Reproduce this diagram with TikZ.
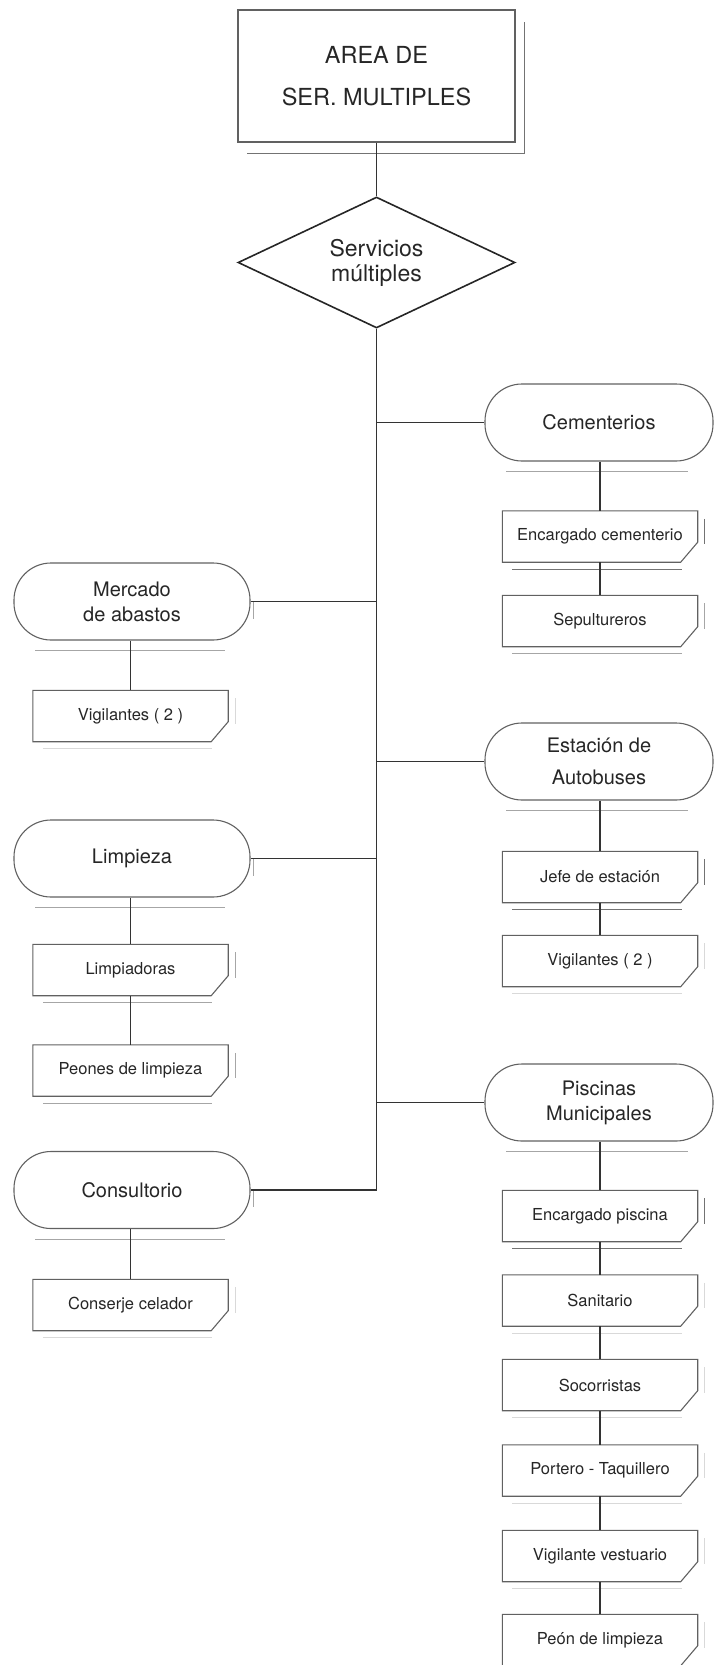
\documentclass[tikz,border=0pt]{standalone}
\usepackage{fontspec}
\setmainfont{TeX Gyre Heros}
\usetikzlibrary{shapes.geometric}
\tikzset{
 outl/.style={draw=black!62, line width=1.1pt},
 conn/.style={draw=black!80, line width=1.3pt},
 shdark/.style={draw=black!55, line width=1.1pt},
 shmid/.style={draw=black!35, line width=1pt},
 shlight/.style={draw=black!15, line width=1pt},
 topbox/.style={rectangle, outl, minimum width=277pt, minimum height=132pt, inner sep=0pt, align=center, font=\fontsize{23.5}{42}\selectfont, text=black!85},
 decision/.style={diamond, draw=black!85, line width=1.6pt, aspect=2.1, minimum width=277pt, minimum height=131pt, inner sep=0pt, align=center, font=\fontsize{23}{25}\selectfont, text=black!85},
 pill/.style={rectangle, outl, rounded corners=37pt, minimum height=77pt, inner sep=0pt, align=center, text=black!85},
 lpill/.style={pill, minimum width=236pt},
 rpill/.style={pill, minimum width=228pt},
 card/.style={rectangle, minimum width=195pt, minimum height=51pt, inner sep=0pt, font=\fontsize{16.5}{19}\selectfont, text=black!85},
}
\newcommand\cardbox[5]{%
 \node[card] (#1) at (#2,#3) {#4};
 \draw[#5] ([xshift=7pt,yshift=-8pt]#1.north east) -- ([xshift=7pt,yshift=18pt]#1.south east);
 \draw[#5] ([xshift=10pt,yshift=-7pt]#1.south west) -- ([xshift=-16pt,yshift=-7pt]#1.south east);
 \draw[outl] (#1.north west) -- (#1.north east) -- ([yshift=20pt]#1.south east) -- ([xshift=-17pt]#1.south east) -- (#1.south west) -- cycle;
}
\newcommand\pillshadow[1]{%
 \draw[shmid] ([xshift=22pt,yshift=-10pt]#1.south west) -- ([xshift=-26pt,yshift=-10pt]#1.south east);
}
\begin{document}
\begin{tikzpicture}[x=1pt,y=-1pt]
\useasboundingbox (0,0) rectangle (713,1665);

% top box
\node[topbox] (top) at (376.5,76) {AREA DE\\SER. MULTIPLES};
\draw[shdark] ([xshift=9pt,yshift=-13pt]top.north east) -- ([xshift=9pt,yshift=-11pt]top.south east) -- ([xshift=10pt,yshift=-11pt]top.south west);

% decision
\node[decision] (dec) at (376.5,262.5) {Servicios\\múltiples};

% pills
\node[rpill, font=\fontsize{20}{26}\selectfont] (cem) at (599,422.5) {Cementerios};
\node[lpill, font=\fontsize{20}{25}\selectfont] (merc) at (132,601.5) {Mercado\\de abastos};
\node[rpill, font=\fontsize{20}{32}\selectfont] (est) at (599,761.5) {Estación de\\Autobuses};
\node[lpill, font=\fontsize{20}{26}\selectfont] (limp) at (132,858.5) {Limpieza};
\node[rpill, font=\fontsize{20}{25}\selectfont] (pisc) at (599,1102.5) {Piscinas\\Municipales};
\node[lpill, font=\fontsize{20}{26}\selectfont] (cons) at (132,1190) {Consultorio};
\foreach \p in {cem,merc,est,limp,pisc,cons}{\pillshadow{\p}}
\foreach \p in {merc,limp,cons}{\draw[shmid] ([xshift=3pt]\p.east) -- ([xshift=3pt,yshift=-17pt]\p.east);}

% cards
\cardbox{encc}{600}{536.5}{Encargado cementerio}{shdark}
\cardbox{sepu}{600}{621}{Sepultureros}{shmid}
\cardbox{vigl}{130.5}{716}{Vigilantes ( 2 )}{shlight}
\cardbox{jefe}{600}{877}{Jefe de estación}{shdark}
\cardbox{vigr}{600}{961}{Vigilantes ( 2 )}{shlight}
\cardbox{limpd}{130.5}{970}{Limpiadoras}{shmid}
\cardbox{peones}{130.5}{1070.5}{Peones de limpieza}{shmid}
\cardbox{encp}{600}{1216}{Encargado piscina}{shdark}
\cardbox{conser}{130.5}{1305}{Conserje celador}{shlight}
\cardbox{sanit}{600}{1300.5}{Sanitario}{shlight}
\cardbox{socor}{600}{1385}{Socorristas}{shlight}
\cardbox{porte}{600}{1470.5}{Portero - Taquillero}{shlight}
\cardbox{vigv}{600}{1556}{Vigilante vestuario}{shlight}
\cardbox{peon}{600}{1640}{Peón de limpieza}{shlight}

% connectors
\draw[conn] (top.south) -- (dec.north);
\draw[conn] (dec.south) -- (dec.south |- cons.east);
\draw[conn] (dec.south |- cem.west) -- (cem.west);
\draw[conn] (dec.south |- est.west) -- (est.west);
\draw[conn] (dec.south |- pisc.west) -- (pisc.west);
\draw[conn] (merc.east) -- (merc.east -| dec.south);
\draw[conn] (limp.east) -- (limp.east -| dec.south);
\draw[conn] (cons.east) -- (cons.east -| dec.south);

\draw[conn] (encc.north |- cem.south) -- (encc.north);
\draw[conn] (encc.south) -- (sepu.north);
\draw[conn] (vigl.north |- merc.south) -- (vigl.north);
\draw[conn] (jefe.north |- est.south) -- (jefe.north);
\draw[conn] (jefe.south) -- (vigr.north);
\draw[conn] (limpd.north |- limp.south) -- (limpd.north);
\draw[conn] (limpd.south) -- (peones.north);
\draw[conn] (conser.north |- cons.south) -- (conser.north);
\draw[conn] (encp.north |- pisc.south) -- (encp.north);
\draw[conn] (encp.south) -- (sanit.north);
\draw[conn] (sanit.south) -- (socor.north);
\draw[conn] (socor.south) -- (porte.north);
\draw[conn] (porte.south) -- (vigv.north);
\draw[conn] (vigv.south) -- (peon.north);
\end{tikzpicture}
\end{document}
